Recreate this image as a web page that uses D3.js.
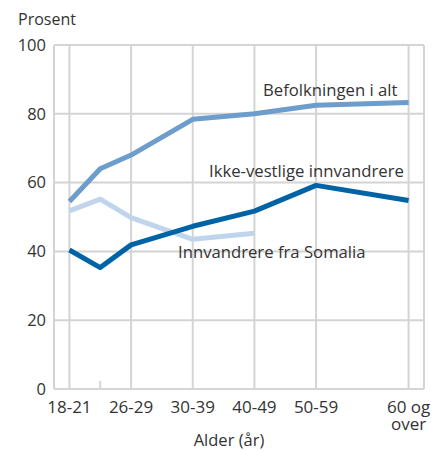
<!DOCTYPE html>
<html>
<head>
<meta charset="utf-8">
<script src="https://cdn.jsdelivr.net/npm/d3@7"></script>
<style>
  body { margin: 0; background: #fff; }
  text { font-family: "Open Sans", sans-serif; fill: #333; }
</style>
</head>
<body>
<div id="chart"></div>
<script>
// age groups, position on the x scale (uneven spacing in the original)
const ageGroups = ['18-21', '22-25', '26-29', '30-39', '40-49', '50-59', '60 og over']
const agePos = [0, 1, 2, 4, 6, 8, 11]
const labelledAges = ['18-21', '26-29', '30-39', '40-49', '50-59', '60 og over']

const befolkningen = [54.5, 64, 68, 78.4, 80, 82.5, 83.3]
const ikkeVestlige = [40.4, 35.3, 41.9, 47.3, 51.7, 59.2, 54.8]
const somalia = [51.8, 55.2, 49.8, 43.5, 45.3]

const yTicks = [0, 20, 40, 60, 80, 100]

const width = 445, height = 451
const margin = {top: 45, right: 21, bottom: 62, left: 54}

const svg = d3.select('#chart').append('svg')
  .attr('width', width)
  .attr('height', height)

const x = d3.scaleLinear()
  .domain([-0.5, 11.5])
  .range([margin.left, width - margin.right])

const y = d3.scaleLinear()
  .domain([0, 100])
  .range([height - margin.bottom, margin.top])

const grid = svg.append('g')
  .attr('stroke', '#d4d4d4')
  .attr('stroke-width', 2)

// horizontal grid
grid.selectAll('line.h')
  .data(yTicks)
  .join('line')
    .attr('class', 'h')
    .attr('x1', x(-0.5))
    .attr('x2', x(11.5))
    .attr('y1', d => y(d))
    .attr('y2', d => y(d))

// vertical grid for labelled groups + frame edges
const vLines = ageGroups.map((g, i) => ({g, p: agePos[i]}))
  .filter(d => labelledAges.includes(d.g))
  .map(d => d.p)
  .concat([-0.5, 11.5])

grid.selectAll('line.v')
  .data(vLines)
  .join('line')
    .attr('class', 'v')
    .attr('x1', d => x(d))
    .attr('x2', d => x(d))
    .attr('y1', y(100))
    .attr('y2', y(0))

// short tick for the unlabelled group
grid.append('line')
  .attr('x1', x(agePos[1]))
  .attr('x2', x(agePos[1]))
  .attr('y1', y(0) - 8)
  .attr('y2', y(0))

// y axis labels
svg.append('g')
  .selectAll('text')
  .data(yTicks)
  .join('text')
    .attr('x', margin.left - 8)
    .attr('y', d => y(d))
    .attr('dy', '0.35em')
    .attr('text-anchor', 'end')
    .style('font-size', '16.5px')
    .text(d => d)

svg.append('text')
  .attr('x', 18)
  .attr('y', 25)
  .style('font-size', '16px')
  .text('Prosent')

// x axis labels
const xLab = svg.append('g')
  .selectAll('text')
  .data(ageGroups.map((g, i) => ({g, p: agePos[i]})).filter(d => labelledAges.includes(d.g)))
  .join('text')
    .attr('x', d => x(d.p))
    .attr('y', 413)
    .attr('text-anchor', 'middle')
    .style('font-size', '17px')

xLab.each(function(d) {
  const words = d.g === '60 og over' ? ['60 og', 'over'] : [d.g]
  d3.select(this).selectAll('tspan')
    .data(words)
    .join('tspan')
      .attr('x', x(d.p))
      .attr('dy', (w, i) => i === 0 ? 0 : 17)
      .text(w => w)
})

svg.append('text')
  .attr('x', 229)
  .attr('y', 446)
  .attr('text-anchor', 'middle')
  .style('font-size', '16.5px')
  .text('Alder (år)')

// lines
const series = [
  {name: 'Befolkningen i alt', values: befolkningen, color: '#6d9dcc', lx: 263, ly: 96},
  {name: 'Ikke-vestlige innvandrere', values: ikkeVestlige, color: '#0063a5', lx: 209, ly: 177},
  {name: 'Innvandrere fra Somalia', values: somalia, color: '#c0d5ec', lx: 178, ly: 258}
]

const line = d3.line()
  .x((d, i) => x(agePos[i]))
  .y(d => y(d))

svg.append('g')
  .selectAll('path')
  .data([series[2], series[0], series[1]])
  .join('path')
    .attr('fill', 'none')
    .attr('stroke', d => d.color)
    .attr('stroke-width', 5)
    .attr('stroke-linejoin', 'round')
    .attr('d', d => line(d.values))

svg.append('g')
  .selectAll('text')
  .data(series)
  .join('text')
    .attr('x', d => d.lx)
    .attr('y', d => d.ly)
    .style('font-size', '16.7px')
    .text(d => d.name)
</script>
</body>
</html>
